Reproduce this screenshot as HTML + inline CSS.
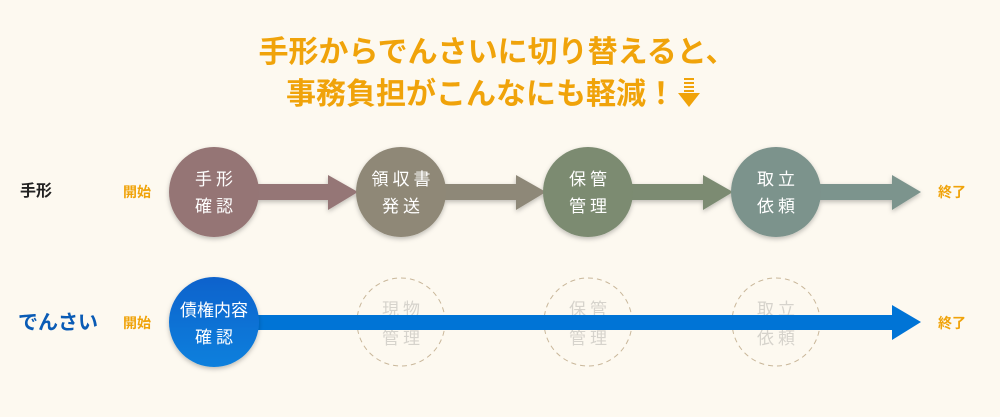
<!DOCTYPE html>
<html><head><meta charset="utf-8"><style>
html,body{margin:0;padding:0;background:#fdf9f0;}
svg{display:block;font-family:"Liberation Sans","Noto Sans CJK JP",sans-serif;}
</style></head><body>
<svg width="1000" height="417" viewBox="0 0 1000 417" xmlns="http://www.w3.org/2000/svg">
<defs>
<filter id="sh" x="-30%" y="-30%" width="160%" height="160%"><feDropShadow dx="0" dy="2" stdDeviation="2.5" flood-color="#000" flood-opacity="0.25"/></filter>
<linearGradient id="bl" x1="0" y1="0" x2="0" y2="1"><stop offset="0" stop-color="#0a62cc"/><stop offset="1" stop-color="#0a80dd"/></linearGradient>
</defs>
<rect width="1000" height="417" fill="#fdf9f0"/>
<g font-weight="bold" fill="#f0a30a" font-size="30" text-anchor="middle">
<text x="497" y="62">手形からでんさいに切り替えると、</text>
<text x="481" y="104">事務負担がこんなにも軽減！</text>
</g>
<g fill="#f0a30a">
<rect x="684" y="78" width="10" height="2"/><rect x="684" y="82" width="10" height="2"/><rect x="684" y="86" width="10" height="2"/><rect x="684" y="90" width="10" height="2"/>
<polygon points="678,93 700,93 689,107"/>
</g>
<text x="20" y="196" font-size="16" font-weight="bold" fill="#222">手形</text>
<text x="18" y="329" font-size="20" font-weight="bold" fill="#0a5bb5">でんさい</text>
<g font-size="14" font-weight="bold" fill="#f0a30a">
<text x="123" y="197">開始</text><text x="123" y="328">開始</text>
<text x="938" y="197">終了</text><text x="938" y="328">終了</text>
</g>
<g filter="url(#sh)">
<polygon points="250,184 328,184 328,175 358,192 328,210 328,200 250,200" fill="#957676"/>
<polygon points="440,184 516,184 516,175 546,192 516,210 516,200 440,200" fill="#8e8878"/>
<polygon points="626,184 703,184 703,175 733,192 703,210 703,200 626,200" fill="#7b8b72"/>
<polygon points="812,184 892,184 892,175 921,192 892,210 892,200 812,200" fill="#7c948d"/>
<circle cx="214" cy="192" r="45" fill="#957575"/>
<circle cx="401" cy="192" r="45" fill="#8f8877"/>
<circle cx="588" cy="192" r="45" fill="#7b8b71"/>
<circle cx="776" cy="192" r="45" fill="#7c938c"/>
</g>
<g fill="#fff" font-size="17" text-anchor="middle" letter-spacing="4">
<text x="216" y="185">手形</text><text x="216" y="212">確認</text>
<text x="403" y="185">領収書</text><text x="403" y="212">発送</text>
<text x="590" y="185">保管</text><text x="590" y="212">管理</text>
<text x="778" y="185">取立</text><text x="778" y="212">依頼</text>
</g>
<g fill="none" stroke="#c9b79a" stroke-width="1" stroke-dasharray="5,4">
<circle cx="401" cy="322" r="44"/><circle cx="588" cy="322" r="44"/><circle cx="776" cy="322" r="44"/>
</g>
<g fill="#d6d3cc" font-size="17" text-anchor="middle" letter-spacing="4">
<text x="403" y="315">現物</text><text x="403" y="344">管理</text>
<text x="590" y="315">保管</text><text x="590" y="344">管理</text>
<text x="778" y="315">取立</text><text x="778" y="344">依頼</text>
</g>
<polygon points="250,315 892,315 892,305 921,322 892,340 892,330 250,330" fill="#0074d6"/>
<circle cx="214" cy="322" r="45" fill="url(#bl)" filter="url(#sh)"/>
<g fill="#fff" font-size="17" text-anchor="middle">
<text x="214" y="316">債権内容</text><text x="216" y="343" letter-spacing="4">確認</text>
</g>
</svg>
</body></html>
